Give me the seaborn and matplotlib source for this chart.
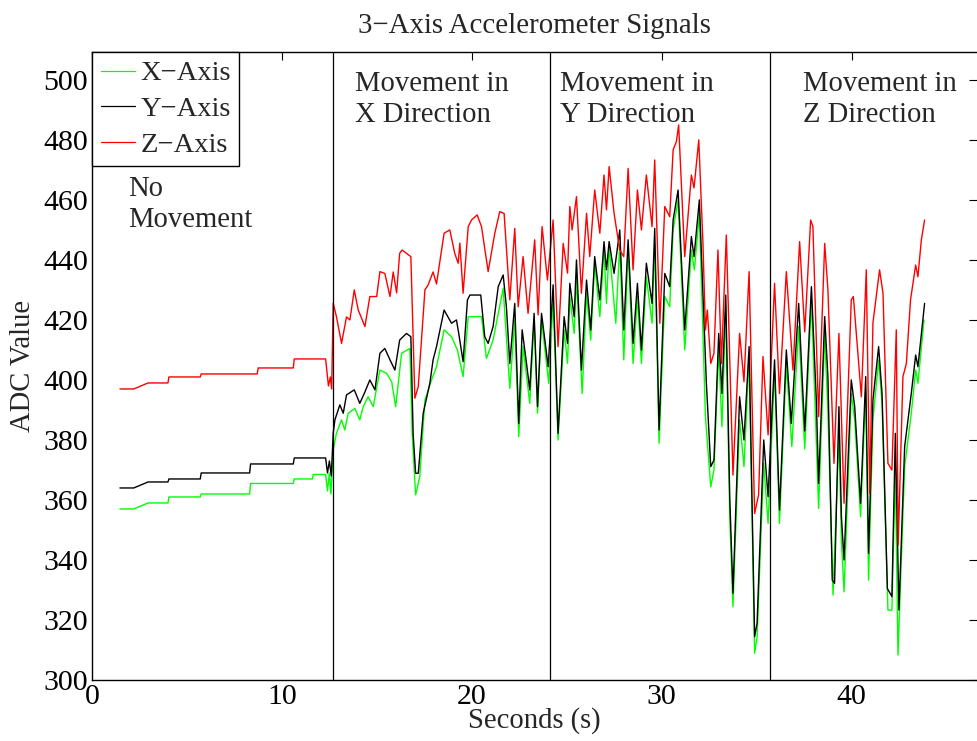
import seaborn as sns
import pandas as pd
import matplotlib.pyplot as plt

# --- values (seconds, ADC counts) ---
t_x = [1.47, 2.2, 2.95, 4.0, 4.05, 5.7, 5.75, 8.3, 8.35, 10.6, 10.65, 11.6, 11.65, 12.3, 12.4, 12.5, 12.58,
       12.70, 12.87, 13.14, 13.31, 13.49, 13.84, 14.10, 14.28, 14.54, 14.81, 15.16, 15.51, 15.78, 15.99,
       16.30, 16.74, 16.86, 17.04, 17.26, 17.53, 17.88, 18.14, 18.54, 18.93, 19.24, 19.54, 19.81, 20.51,
       20.77, 21.12, 21.65, 22.00, 22.26, 22.47, 22.70, 23.05, 23.28, 23.46, 23.67, 24.05, 24.28, 24.54,
       24.86, 25.04, 25.16, 25.39, 25.51, 25.81, 26.04, 26.26, 26.47, 26.74, 26.96, 27.09, 27.23, 27.58,
       27.79, 28.00, 28.23, 28.49, 28.72, 28.93, 29.19, 29.49, 29.63, 29.86, 30.16, 30.42, 30.60, 30.86,
       31.21, 31.56, 31.72, 31.98, 32.30, 32.58, 32.75, 33.00, 33.17, 33.37, 33.58, 33.75, 34.10, 34.33,
       34.60, 34.89, 35.02, 35.37, 35.60, 35.94, 36.20, 36.56, 36.85, 37.21, 37.53, 37.88, 38.26, 38.58,
       38.75, 39.02, 39.33, 39.46, 39.60, 39.98, 40.16, 40.47, 40.74, 40.89, 41.12, 41.42, 41.60, 41.91,
       42.12, 42.30, 42.44, 42.79, 43.14, 43.37, 43.49, 43.81]
x_axis = [357, 357, 359, 359, 361, 361, 362, 362, 365.5, 365.5, 367, 367, 368.5, 368.5, 363, 369, 362,
          376.7, 382.2, 386.7, 383.3, 388.9, 390.5, 386.7, 391.1, 394.4, 391.1, 403.3, 402.2, 399.4, 391.1,
          408.9, 410.5, 382.0, 361.7, 367.8, 393.3, 400.0, 404.4, 416.7, 414.4, 410.0, 401.1, 421.1, 421.1,
          407.2, 413.3, 430.5, 397.2, 420.0, 381.1, 411.1, 392.2, 420.0, 388.9, 420.0, 398.9, 426.7, 380.0,
          416.7, 405.5, 427.8, 415.5, 434.4, 395.5, 428.9, 413.3, 438.9, 421.1, 443.3, 425.5, 444.4, 418.9,
          445.5, 406.7, 443.3, 405.5, 427.8, 405.5, 434.4, 418.9, 445.5, 378.9, 427.8, 424.4, 450.0, 460.0,
          410.0, 443.3, 436.7, 455.5, 387.8, 364.4, 370.0, 410.5, 384.4, 424.4, 354.4, 324.4, 386.7, 371.1,
          407.8, 308.9, 314.4, 372.2, 352.2, 403.3, 352.2, 405.5, 377.8, 417.8, 377.0, 426.7, 357.2, 415.5,
          388.9, 328.3, 382.2, 346.7, 329.4, 395.5, 386.7, 354.4, 396.7, 333.3, 386.7, 406.7, 392.2, 323.3,
          323.3, 371.1, 308.3, 371.1, 388.9, 403.3, 398.9, 420.0]

t_y = [1.47, 2.2, 2.95, 4.0, 4.05, 5.7, 5.75, 8.3, 8.35, 10.6, 10.65, 12.3, 12.4, 12.5, 12.6,
       12.70, 12.79, 13.05, 13.23, 13.40, 13.81, 14.10, 14.37, 14.63, 14.90, 15.16, 15.42, 15.69, 15.95,
       16.20, 16.56, 16.79, 16.91, 17.04, 17.18, 17.44, 17.79, 17.96, 18.14, 18.54, 18.93, 19.19, 19.31,
       19.54, 19.77, 19.90, 20.47, 20.68, 20.86, 21.12, 21.39, 21.65, 21.82, 22.00, 22.26, 22.47, 22.65,
       22.88, 23.05, 23.28, 23.46, 23.67, 24.02, 24.28, 24.54, 24.86, 25.04, 25.16, 25.39, 25.51, 25.77,
       26.04, 26.26, 26.47, 26.74, 26.96, 27.09, 27.23, 27.49, 27.79, 28.00, 28.23, 28.49, 28.72, 28.93,
       29.19, 29.49, 29.63, 29.86, 30.16, 30.42, 30.60, 30.86, 31.21, 31.56, 31.70, 31.98, 32.17, 32.35,
       32.58, 32.75, 33.00, 33.17, 33.37, 33.58, 33.75, 34.10, 34.33, 34.60, 34.89, 35.02, 35.37, 35.60,
       35.81, 35.94, 36.20, 36.56, 36.82, 37.21, 37.39, 37.53, 37.88, 38.14, 38.26, 38.58, 38.75, 38.98,
       39.10, 39.33, 39.46, 39.60, 39.98, 40.16, 40.47, 40.74, 40.89, 41.12, 41.42, 41.60, 41.88, 42.12,
       42.30, 42.49, 42.79, 43.14, 43.37, 43.49, 43.84]
y_axis = [364, 364, 366, 366, 367, 367, 369, 369, 372, 372, 374, 374, 369, 373, 368,
          382.2, 386.7, 391.7, 388.9, 395.0, 396.7, 392.2, 396.0, 400.0, 396.7, 408.9, 410.5, 406.7, 403.3,
          413.3, 415.5, 414.4, 382.0, 368.9, 368.9, 388.9, 398.9, 406.7, 411.1, 423.3, 418.9, 420.0, 415.5,
          406.1, 426.7, 428.3, 428.3, 414.4, 412.2, 417.8, 431.1, 435.0, 424.4, 405.5, 425.5, 385.5, 416.7,
          405.5, 396.7, 422.2, 391.1, 422.2, 404.4, 431.7, 382.2, 421.1, 412.2, 432.2, 421.1, 440.0, 403.3,
          433.3, 416.7, 441.1, 426.7, 446.1, 436.7, 446.1, 435.5, 450.0, 416.7, 446.7, 412.2, 432.2, 410.0,
          438.9, 425.5, 450.5, 383.3, 435.5, 431.1, 453.3, 463.3, 416.7, 447.8, 441.1, 460.0, 428.9, 398.9,
          371.1, 373.3, 415.5, 395.5, 428.3, 361.1, 328.9, 394.4, 380.0, 411.1, 314.4, 318.9, 380.0, 361.1,
          390.0, 406.7, 356.7, 410.0, 385.5, 425.5, 401.1, 383.0, 431.1, 393.3, 365.5, 421.1, 401.1, 333.3,
          332.2, 391.1, 354.4, 340.0, 400.0, 391.1, 358.9, 401.1, 342.2, 393.3, 411.1, 395.5, 330.5, 327.8,
          382.2, 323.3, 377.8, 395.5, 408.3, 404.4, 425.5]

t_z = [1.47, 2.2, 2.95, 4.0, 4.05, 5.7, 5.75, 8.7, 8.75, 10.6, 10.65, 12.3, 12.45, 12.55, 12.62,
       12.70, 12.87, 13.14, 13.40, 13.58, 13.81, 14.02, 14.37, 14.63, 14.99, 15.16, 15.42, 15.69, 15.86,
       16.04, 16.20, 16.33, 16.79, 17.00, 17.18, 17.53, 17.70, 17.96, 18.14, 18.54, 18.84, 19.10, 19.28,
       19.37, 19.54, 19.81, 19.98, 20.28, 20.51, 20.86, 21.21, 21.47, 21.70, 22.00, 22.26, 22.44, 22.70,
       22.96, 23.31, 23.49, 23.70, 23.98, 24.28, 24.54, 24.81, 25.04, 25.16, 25.28, 25.51, 25.77, 26.04,
       26.21, 26.47, 26.74, 26.96, 27.09, 27.23, 27.49, 27.79, 28.00, 28.23, 28.49, 28.72, 28.93, 29.19,
       29.49, 29.63, 29.90, 30.16, 30.42, 30.60, 30.77, 30.89, 31.21, 31.56, 31.70, 31.95, 32.17, 32.30,
       32.40, 32.58, 32.75, 32.96, 33.14, 33.40, 33.75, 34.10, 34.33, 34.60, 34.89, 35.10, 35.33, 35.60,
       35.94, 36.20, 36.56, 36.91, 37.26, 37.53, 37.84, 37.96, 38.26, 38.58, 38.75, 39.07, 39.33, 39.60,
       39.98, 40.09, 40.33, 40.51, 40.77, 40.95, 41.12, 41.47, 41.65, 41.91, 42.12, 42.35, 42.45, 42.70,
       42.88, 43.10, 43.37, 43.49, 43.67, 43.84]
z_axis = [397, 397, 399, 399, 401, 401, 402, 402, 404, 404, 407, 407, 398, 401, 397,
          425.6, 421.1, 412.2, 421.0, 420.0, 430.0, 423.3, 417.8, 427.8, 427.8, 436.1, 435.5, 427.8, 436.0,
          429.0, 442.2, 443.3, 441.1, 393.9, 397.8, 430.0, 431.7, 436.0, 432.0, 448.9, 450.0, 442.2, 438.9,
          445.6, 428.9, 451.1, 453.3, 455.0, 451.1, 436.1, 448.9, 456.1, 455.5, 426.7, 450.5, 424.4, 441.1,
          422.2, 446.7, 421.7, 451.1, 433.3, 453.3, 411.1, 445.5, 435.6, 457.8, 450.0, 461.1, 428.9, 455.5,
          441.1, 463.3, 448.9, 468.3, 456.7, 471.1, 455.5, 443.3, 441.1, 470.5, 436.7, 463.3, 450.0, 468.3,
          451.1, 473.3, 418.9, 457.8, 454.4, 476.7, 479.4, 485.0, 441.1, 468.3, 464.0, 480.0, 445.5, 416.7,
          423.3, 405.5, 408.9, 443.3, 405.5, 448.3, 368.3, 415.5, 399.4, 436.1, 355.5, 361.7, 407.8, 381.7,
          432.2, 395.5, 436.1, 403.3, 446.1, 416.0, 453.3, 451.1, 387.8, 445.5, 430.0, 372.2, 415.5, 358.9,
          426.7, 427.8, 408.9, 394.4, 436.7, 362.2, 419.0, 436.7, 428.9, 372.2, 370.0, 416.7, 345.0, 401.1,
          405.5, 426.7, 438.3, 434.4, 446.7, 453.3]

# phase boundaries (s) and labels
boundaries = [12.68, 24.12, 35.72]
phase_labels = ["No\nMovement", "Movement in\nX Direction", "Movement in\nY Direction", "Movement in\nZ Direction"]
phase_pos = [(1.9, 468), (13.84, 503), (24.63, 503), (37.42, 503)]

df = pd.concat([
    pd.DataFrame({"t": t_x, "v": x_axis, "axis": "X\u2212Axis"}),
    pd.DataFrame({"t": t_y, "v": y_axis, "axis": "Y\u2212Axis"}),
    pd.DataFrame({"t": t_z, "v": z_axis, "axis": "Z\u2212Axis"}),
])

sns.set_style("white")
plt.rcParams['font.family'] = ['Liberation Serif', 'DejaVu Serif']

fig = plt.figure(figsize=(9.77, 7.41), dpi=100)
ax = fig.add_axes([92/977, 1-680/741, 1.0-92/977, (680-52)/741])

sns.lineplot(data=df, x="t", y="v", hue="axis", sort=False, estimator=None,
             palette={"X\u2212Axis": "#00ff00", "Y\u2212Axis": "black", "Z\u2212Axis": "red"},
             hue_order=["X\u2212Axis", "Y\u2212Axis", "Z\u2212Axis"], lw=1.0, ax=ax)

for b in boundaries:
    ax.axvline(b, color="black", lw=0.9)
for lab, (tx, ty) in zip(phase_labels, phase_pos):
    ax.text(tx, ty, lab, fontsize=20.6, va="top", ha="left", linespacing=1.25)

ax.set_xlim(0, 46.6)
ax.set_ylim(300, 509.3)
ax.set_xticks([0, 10, 20, 30, 40])
ax.set_yticks(range(300, 501, 20))
ax.tick_params(direction="in", length=6, width=0.8, labelsize=21.5, top=True, right=True, pad=3,
               colors="black")
for s in ["left", "bottom", "top"]:
    ax.spines[s].set_color("black")
    ax.spines[s].set_linewidth(1.0)
ax.spines["right"].set_visible(False)

ax.set_title("3\u2212Axis Accelerometer Signals", fontsize=20.8, pad=14)
ax.set_xlabel("Seconds (s)", fontsize=20.6, labelpad=-2)
ax.set_ylabel("ADC Value", fontsize=20.6, labelpad=5)

leg = ax.legend(loc="upper left", bbox_to_anchor=(0, 1), borderaxespad=0, fancybox=False,
                edgecolor="black", framealpha=1, fontsize=20.5, handlelength=1.2, handletextpad=0.2,
                labelspacing=0.34, borderpad=0.3, title=None)
leg.get_frame().set_linewidth(1.0)
for line in leg.get_lines():
    line.set_linewidth(0.9)

fig.savefig("out.png", dpi=100)
